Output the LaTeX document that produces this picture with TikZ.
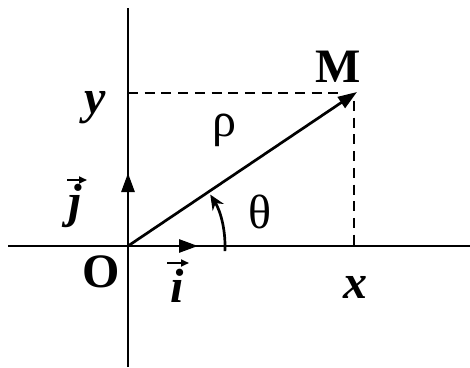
\documentclass[tikz,border=0pt]{standalone}
\usepackage{fontspec}
\setmainfont{Liberation Serif}
\usetikzlibrary{arrows.meta,calc}
\begin{document}
\begin{tikzpicture}[x=1pt,y=1pt,
  axis/.style={line width=2.9pt},
  vec/.style={line width=2.7pt,-{Triangle[length=19pt,width=13pt]}},
  dashline/.style={line width=2.4pt,dash pattern=on 10pt off 6.7pt},
  lbl/.style={inner sep=0pt,anchor=base,font=\fontsize{48}{48}\selectfont\bfseries\itshape},
  upl/.style={inner sep=0pt,anchor=base,font=\fontsize{48}{48}\selectfont\bfseries},
  greek/.style={inner sep=0pt,anchor=base,font=\fontsize{48}{48}\selectfont},
  smallvec/.style={line width=1.8pt,-{Triangle[length=8pt,width=7pt]}}]
\useasboundingbox[fill=white] (0,0) rectangle (470,367);
% points
\coordinate (O) at (128,121);
\coordinate (M) at (357,275);
\coordinate (My) at (128,274);
\coordinate (Mx) at (354,121);
\coordinate (Mxt) at (354,266);
\coordinate (xl) at (8,121);
\coordinate (xr) at (470,121);
\coordinate (yt) at (128,359);
\coordinate (yb) at (128,0);
\coordinate (ie) at (198,121);
\coordinate (je) at (128,194);
% axes
\draw[axis] (xl) -- (xr);
\draw[axis] (yb) -- (yt);
% dashed projections
\draw[dashline] (My) -- (343,274);
\draw[dashline] (Mxt) -- (Mx);
% unit vectors
\draw[vec] (O) -- (ie);
\draw[vec] (O) -- (je);
% position vector
\draw[vec] (O) -- (M);
% angle arc
\draw[line width=2.7pt,-{Stealth[length=15pt,width=13pt]}] ($(O)+(-3:97)$) arc[start angle=-3,end angle=32,radius=97];
% labels
\node[lbl] (ylab) at (95,253) {y};
\node[lbl] (xlab) at (355,69) {x};
\node[upl] (Mlab) at (338,284) {M};
\node[upl] (Olab) at (101,80) {O};
\node[greek] (rho) at (224,230) {ρ};
\node[greek] (theta) at (260,139) {θ};
\node[lbl] (jlab) at (75,150) {j};
\node[lbl] (ilab) at (177,65) {i};
\draw[smallvec] ($(jlab.base)+(-8,37)$) -- ($(jlab.base)+(12,37)$);
\draw[smallvec] ($(ilab.base)+(-10,39)$) -- ($(ilab.base)+(12,39)$);
\end{tikzpicture}
\end{document}
